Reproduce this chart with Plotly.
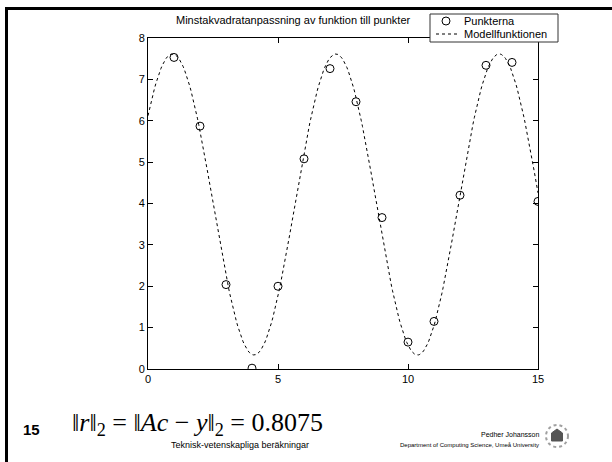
import numpy as np
import plotly.graph_objects as go

# Data
x_points = [1, 2, 3, 4, 5, 6, 7, 8, 9, 10, 11, 12, 13, 14, 15]
y_points = [7.53, 5.87, 2.04, 0.02, 2.0, 5.08, 7.26, 6.46, 3.66, 0.65, 1.15, 4.20, 7.34, 7.41, 4.05]
x_ticks = [0, 5, 10, 15]
y_ticks = [0, 1, 2, 3, 4, 5, 6, 7, 8]
residual_text = "0.8075"

# Model function: least squares fit  c1 + c2 sin x + c3 cos x  of the points
xp = np.array(x_points, float)
yp = np.array(y_points, float)
A = np.column_stack([np.ones_like(xp), np.sin(xp), np.cos(xp)])
c, *_ = np.linalg.lstsq(A, yp, rcond=None)
x_model = np.linspace(0, 15, 301)
y_model = c[0] + c[1] * np.sin(x_model) + c[2] * np.cos(x_model)

W, H = 612, 462
L, R, T, B = 148, 538, 38, 369

def px(x):
    return (x - L) / (R - L)

def py(y):
    return (B - y) / (B - T)

fig = go.Figure()
fig.add_trace(go.Scatter(x=x_points, y=y_points, mode="markers", name="Punkterna",
                         marker=dict(symbol="circle-open", size=8, color="black",
                                     line=dict(width=1, color="black"))))
fig.add_trace(go.Scatter(x=x_model, y=y_model, mode="lines", name="Modellfunktionen",
                         line=dict(color="black", width=1, dash="3px,3px")))

font = "Liberation Sans, Arial, sans-serif"
axis_common = dict(showline=True, mirror="ticks", linecolor="black", linewidth=1,
                   ticks="inside", ticklen=5, tickcolor="black", showgrid=False,
                   zeroline=False, tickfont=dict(family=font, size=11, color="black"))
fig.update_layout(
    width=W, height=H,
    margin=dict(l=L, r=W - R, t=T, b=H - B, autoexpand=False),
    paper_bgcolor="white", plot_bgcolor="white",
    showlegend=False,
    xaxis=dict(range=[0, 15], tickvals=x_ticks, **axis_common),
    yaxis=dict(range=[0, 8], tickvals=y_ticks, **axis_common),
)

def pshape(**kw):
    fig.add_shape(xref="paper", yref="paper", layer="above", **kw)

# slide border
pshape(type="line", x0=px(5), x1=px(612), y0=py(8.5), y1=py(8.5), line=dict(color="black", width=3))
pshape(type="line", x0=px(6.5), x1=px(6.5), y0=py(7), y1=py(462), line=dict(color="black", width=3))

# legend box (drawn by hand so that it can overlap the axes as in the original)
pshape(type="rect", x0=px(430), x1=px(558), y0=py(14), y1=py(42),
       fillcolor="white", line=dict(color="#333333", width=1))
pshape(type="circle", x0=px(442), x1=px(450), y0=py(17), y1=py(25),
       line=dict(color="black", width=1))
pshape(type="line", x0=px(436), x1=px(457), y0=py(34), y1=py(34),
       line=dict(color="black", width=1, dash="3px,3px"))

# logo (approximation of the university emblem)
pshape(type="circle", x0=px(546), x1=px(568), y0=py(425), y1=py(447),
       line=dict(color="#a0a0a0", width=2, dash="dot"))
pshape(type="path", path="M {0} {1} L {0} {2} L {3} {4} L {5} {2} L {5} {1} Z".format(
    px(551.5), py(441), py(433), px(557), py(429), px(562.5)),
    fillcolor="#555555", line=dict(color="#555555", width=1))

ann = []
ann.append(dict(text="Minstakvadratanpassning av funktion till punkter", x=px(293), y=py(20),
                font=dict(family=font, size=11, color="black")))
ann.append(dict(text="Punkterna", x=px(462), y=py(21), xanchor="left",
                font=dict(family=font, size=11, color="black")))
ann.append(dict(text="Modellfunktionen", x=px(462), y=py(34), xanchor="left",
                font=dict(family=font, size=11, color="black")))
ann.append(dict(text="<b>15</b>", x=px(31), y=py(429), font=dict(family=font, size=15, color="black")))
ann.append(dict(text="‖<i>r</i>‖<sub>2</sub> = ‖<i>Ac</i> − <i>y</i>‖<sub>2</sub> = " + residual_text,
                x=px(70), y=py(424), xanchor="left",
                font=dict(family="Liberation Serif, Times New Roman, serif", size=26, color="black")))
ann.append(dict(text="Teknisk-vetenskapliga beräkningar", x=px(240), y=py(445),
                font=dict(family=font, size=9, color="black")))
ann.append(dict(text="Pedher Johansson", x=px(541), y=py(434), xanchor="right",
                font=dict(family=font, size=7, color="black")))
ann.append(dict(text="Department of Computing Science, Umeå University", x=px(541), y=py(445), xanchor="right",
                font=dict(family=font, size=6, color="black")))
for a in ann:
    a.setdefault("xanchor", "center")
    fig.add_annotation(xref="paper", yref="paper", showarrow=False, yanchor="middle", **a)

fig.write_html("out.html", config={"displayModeBar": False},
               post_script="document.body.style.margin='0';")
